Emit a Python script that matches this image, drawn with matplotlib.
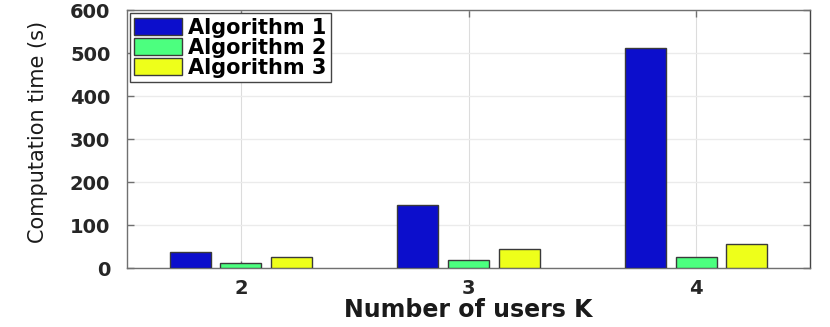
import numpy as np
import matplotlib
matplotlib.use('Agg')
import matplotlib.pyplot as plt

# values
users = [2, 3, 4]
alg1 = [39, 147, 513]
alg2 = [13, 20, 26]
alg3 = [26, 44, 57]
labels = ['Algorithm 1', 'Algorithm 2', 'Algorithm 3']
colors = ['#0c0ecc', '#4cff7f', '#eeff1a']

fig = plt.figure(figsize=(8.3, 3.27), dpi=100)
ax = fig.add_axes([0.153, 0.1795, 0.823, 0.789])

x = np.array(users, dtype=float)
off = 0.222
width = 0.18
for i, (vals, lab, c) in enumerate(zip([alg1, alg2, alg3], labels, colors)):
    ax.bar(x + (i - 1) * off, vals, width, color=c, edgecolor='#3a3a3a',
           linewidth=1.0, label=lab, zorder=3)

ax.set_xlim(1.5, 4.5)
ax.set_ylim(0, 600)
ax.set_xticks(users)
ax.set_yticks(range(0, 601, 100))
ax.grid(True, axis='y', color='#ebebeb', linewidth=1.0, zorder=0)
ax.grid(True, axis='x', color='#dcdcdc', linewidth=0.8, zorder=0)
ax.set_axisbelow(True)

for s in ax.spines.values():
    s.set_color('#707070')
    s.set_linewidth(1.0)
ax.spines['right'].set_color('#444444')

ax.tick_params(direction='in', length=5, width=1, color='#707070',
               top=True, right=True, labelsize=14)
ax.tick_params(axis='y', pad=12)
ax.tick_params(axis='x', pad=8)
for t in ax.get_xticklabels() + ax.get_yticklabels():
    t.set_fontweight('bold')
    t.set_color('#262626')

ax.set_xlabel('Number of users K', fontsize=17, fontweight='bold',
              color='#1a1a1a', labelpad=0)
ax.set_ylabel('Computation time (s)', fontsize=15, color='#1a1a1a',
              labelpad=16, y=0.53)

leg = ax.legend(loc='upper left', bbox_to_anchor=(0.0, 1.0),
                frameon=True, fancybox=False, framealpha=1.0,
                edgecolor='#444444', handlelength=2.3, handleheight=0.9,
                labelspacing=0.0, borderpad=0.2, handletextpad=0.3,
                borderaxespad=0.15, prop={'weight': 'bold', 'size': 15})
leg.get_frame().set_linewidth(1.0)

fig.savefig('out.png', dpi=100)
